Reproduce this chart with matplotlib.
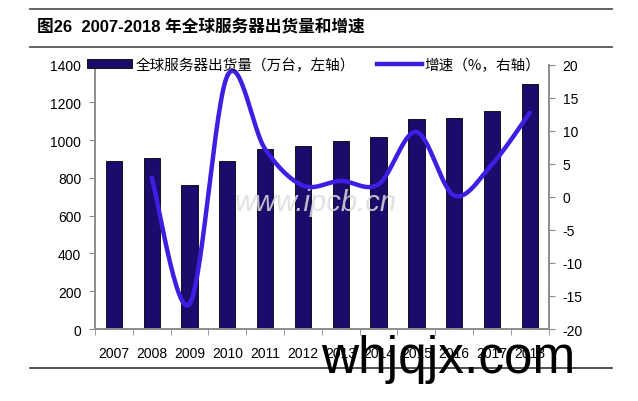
import numpy as np
import matplotlib
matplotlib.use('Agg')
import matplotlib.pyplot as plt
from matplotlib.patches import Patch
from matplotlib.lines import Line2D

years = ['2007', '2008', '2009', '2010', '2011', '2012', '2013', '2014', '2015', '2016', '2017', '2018']
shipments = [890, 905, 760, 890, 955, 970, 995, 1015, 1110, 1118, 1155, 1295]
growth_years = years[1:]
growth = [2.9, -16.2, 18.3, 7.2, 1.7, 2.4, 1.9, 9.8, 0.2, 4.9, 12.7]

bar_color = '#1b0b6c'
line_color = '#3c1fe3'
axis_gray = '#8c8c8c'
cjk = ['Noto Sans CJK SC', 'DejaVu Sans']
latin = ['Liberation Sans', 'Noto Sans CJK SC', 'DejaVu Sans']
plt.rcParams['axes.unicode_minus'] = False


def catmull_rom(xs, ys, n=30):
    # smooth curve through the points, like the "smoothed line" option
    pts = np.column_stack([xs, ys]).astype(float)
    pts = np.vstack([pts[0], pts, pts[-1]])
    out = []
    t = np.linspace(0, 1, n)[:, None]
    for i in range(1, len(pts) - 2):
        p0, p1, p2, p3 = pts[i - 1], pts[i], pts[i + 1], pts[i + 2]
        seg = 0.5 * ((2 * p1) + (-p0 + p2) * t + (2 * p0 - 5 * p1 + 4 * p2 - p3) * t ** 2
                     + (-p0 + 3 * p1 - 3 * p2 + p3) * t ** 3)
        out.append(seg)
    out = np.vstack(out)
    return out[:, 0], out[:, 1]


fig = plt.figure(figsize=(6.38, 4.02), dpi=100)
ax = fig.add_axes([0.149, 0.179, 0.711, 0.658])
ax2 = ax.twinx()

x = np.arange(len(years))
ax.bar(x, shipments, width=0.43, color=bar_color, edgecolor='black', linewidth=0.6, zorder=2)
ax.set_xlim(-0.5, len(years) - 0.5)
ax.set_ylim(0, 1400)
ax.set_yticks(range(0, 1401, 200))
ax.set_xticks(x)
ax.set_xticklabels(years)
ax.set_xticks(np.arange(-0.5, len(years), 1), minor=True)
ax.tick_params(axis='x', which='major', length=0, pad=12)
ax.tick_params(axis='x', which='minor', length=4, color=axis_gray, direction='out')
ax.tick_params(axis='y', length=4, color=axis_gray, direction='out', pad=6)

gx = [years.index(y) for y in growth_years]
sx, sy = catmull_rom(gx, growth)
ax2.plot(sx, sy, color=line_color, linewidth=3.2, solid_capstyle='round', zorder=3)
ax2.set_ylim(-20, 20)
ax2.set_yticks(range(-20, 21, 5))
ax2.tick_params(axis='y', length=4, color=axis_gray, direction='out', pad=6)

for a in (ax, ax2):
    a.spines['top'].set_visible(False)
    for s in ('left', 'right', 'bottom'):
        a.spines[s].set_color(axis_gray)
        a.spines[s].set_linewidth(1.2)
    for lab in a.get_xticklabels() + a.get_yticklabels():
        lab.set_fontfamily(latin)
        lab.set_fontsize(10)
ax.set_zorder(ax2.get_zorder() - 1)
ax2.patch.set_visible(False)

handles = [Patch(facecolor=bar_color, edgecolor='black', linewidth=0.6),
           Line2D([], [], color=line_color, linewidth=3.2)]
labels = ['全球服务器出货量（万台，左轴）', '增速（%，右轴）']
leg = ax2.legend(handles, labels, loc='upper left', bbox_to_anchor=(-0.03, 1.05), ncol=2,
                 frameon=False, prop={'family': cjk, 'size': 10.5},
                 handlelength=3.1, handleheight=0.5, handletextpad=0.2, columnspacing=1.5,
                 borderaxespad=0)

# watermarks
fig.text(0.495, 0.495, 'www.ipcb.cn', fontsize=21, style='italic', color='#dcdcdc', alpha=0.85,
         family=latin, ha='center', va='center', zorder=10)

# title and rules
fig.text(0.058, 0.932, '图26  2007-2018 年全球服务器出货量和增速', fontsize=12, fontweight='bold',
         family=latin, ha='left', va='center')
for yy in (0.975, 0.881):
    fig.add_artist(Line2D([0.047, 0.96], [yy, yy], color='#555555', linewidth=1.3))
fig.add_artist(Line2D([0.047, 0.96], [0.082, 0.082], color='#333333', linewidth=1.2))
fig.text(0.503, 0.072, 'whjqjx.com', fontsize=37, color='black', family=latin,
         ha='left', va='baseline', zorder=10)

fig.savefig('out.png', dpi=100)
